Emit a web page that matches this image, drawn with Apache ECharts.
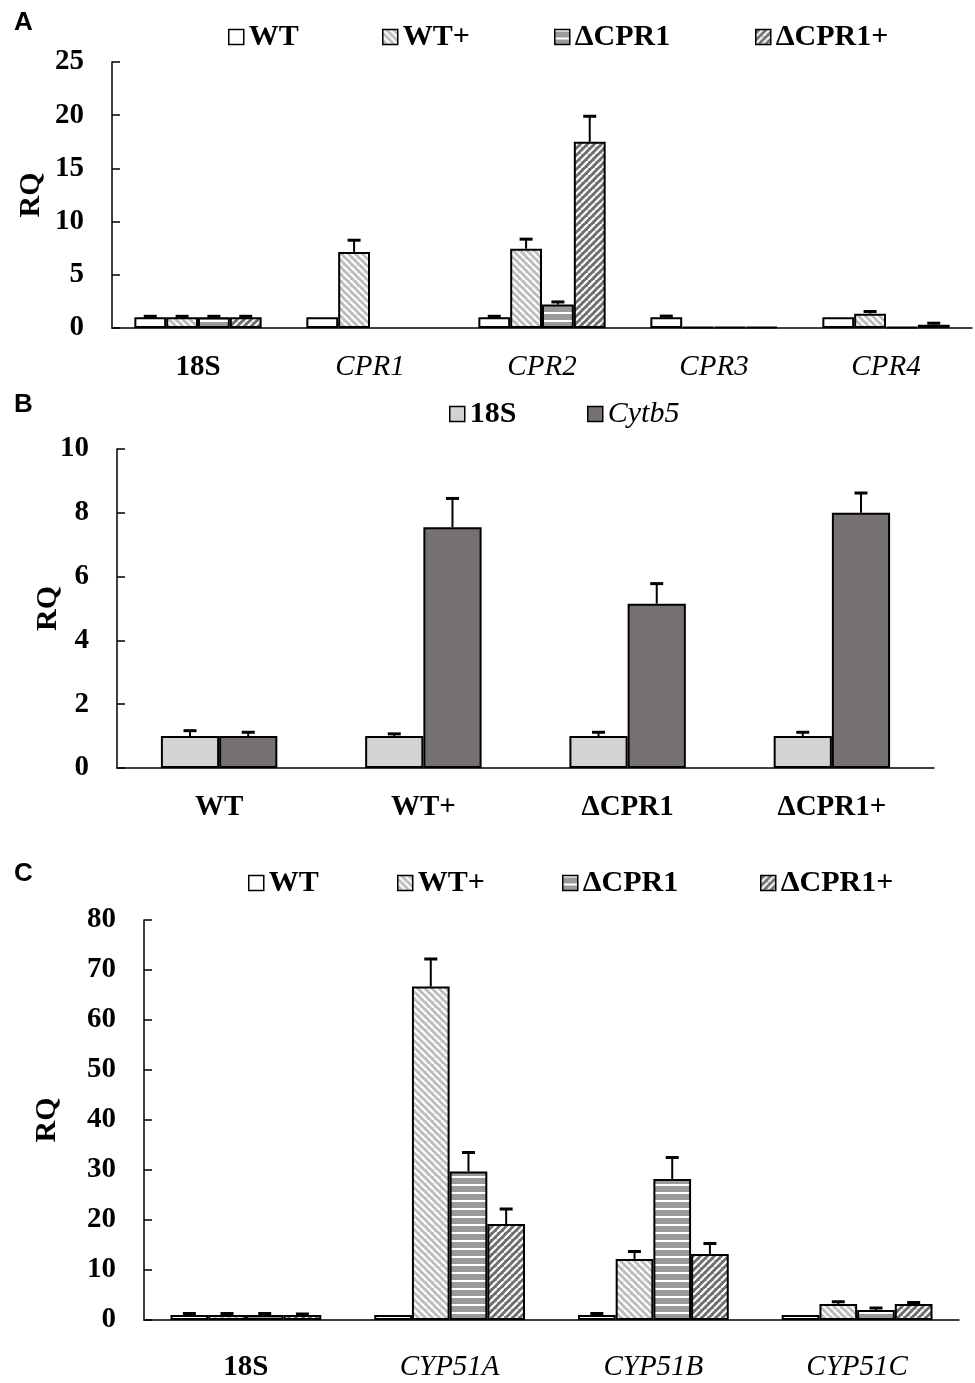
<!DOCTYPE html>
<html>
<head>
<meta charset="utf-8">
<script src="https://cdn.jsdelivr.net/npm/echarts@6/dist/echarts.min.js"></script>
<style>
  html, body { margin: 0; padding: 0; background: #fff; }
  #chart { width: 975px; height: 1383px; }
</style>
</head>
<body>
<div id="chart"></div>
<script>
// ---- data ----
const groups = ["WT", "WT+", "ΔCPR1", "ΔCPR1+"];

// panel A
const catsA = ["18S", "CPR1", "CPR2", "CPR3", "CPR4"];
const wtA = [1, 1, 1, 1, 1];
const wtpA = [1, 7.15, 7.45, 0.1, 1.35];
const dA = [1, null, 2.2, 0.1, 0.1];
const dpA = [1, null, 17.5, 0.1, 0.3];
const wtA_err = [0.1, 0, 0.1, 0.12, 0];
const wtpA_err = [0.1, 1.1, 0.9, 0, 0.2];
const dA_err = [0.1, 0, 0.25, 0, 0];
const dpA_err = [0.1, 0, 2.4, 0, 0.15];

// panel B
const catsB = ["WT", "WT+", "ΔCPR1", "ΔCPR1+"];
const genesB = ["18S", "Cytb5"];
const s18B = [1, 1, 1, 1];
const cytB = [1, 7.55, 5.15, 8.0];
const s18B_err = [0.17, 0.07, 0.12, 0.12];
const cytB_err = [0.12, 0.9, 0.63, 0.62];

// panel C
const catsC = ["18S", "CYP51A", "CYP51B", "CYP51C"];
const wtC = [1, 1, 1, 1];
const wtpC = [1, 66.7, 12.2, 3.2];
const dC = [1, 29.7, 28.2, 2.0];
const dpC = [1, 19.2, 13.2, 3.2];
const wtC_err = [0.3, 0, 0.3, 0];
const wtpC_err = [0.3, 5.5, 1.5, 0.45];
const dC_err = [0.3, 3.8, 4.3, 0.4];
const dpC_err = [0.2, 3.0, 2.1, 0.3];

const italicNames = ["CPR1", "CPR2", "CPR3", "CPR4", "CYP51A", "CYP51B", "CYP51C", "Cytb5"];

// ---- styles ----
const SERIF = "'Liberation Serif', 'Times New Roman', serif";

function hatch(bg, kind, size, lw) {
  const c = document.createElement("canvas");
  c.width = c.height = size;
  const g = c.getContext("2d");
  g.fillStyle = bg;
  g.fillRect(0, 0, size, size);
  g.strokeStyle = "#fff";
  g.fillStyle = "#fff";
  g.lineWidth = lw;
  if (kind === "h") {
    g.fillRect(0, 0, size, lw);
  } else {
    g.beginPath();
    for (const o of [-size, 0, size]) {
      if (kind === "\\") { g.moveTo(o, 0); g.lineTo(o + size, size); }
      else { g.moveTo(o, size); g.lineTo(o + size, 0); }
    }
    g.stroke();
  }
  return { image: c, repeat: "repeat" };
}

const fills = [
  "#ffffff",
  hatch("#bdbdbd", "\\", 7, 2.2),
  hatch("#9a9a9a", "h", 8, 2),
  hatch("#6e6e6e", "/", 7, 2.2)
];

const catLabel = {
  color: "#000",
  fontFamily: SERIF,
  fontSize: 29,
  formatter: v => italicNames.includes(v) ? "{i|" + v + "}" : "{b|" + v + "}",
  rich: {
    i: { fontFamily: SERIF, fontSize: 29, fontStyle: "italic", fontWeight: "normal", color: "#000" },
    b: { fontFamily: SERIF, fontSize: 29, fontWeight: "bold", color: "#000" }
  }
};

function xAxis(idx, cats, margin) {
  return {
    type: "category", gridIndex: idx, data: cats,
    axisLine: { lineStyle: { color: "#000", width: 1.5 } },
    axisTick: { inside: true, length: 10, lineStyle: { color: "#000", width: 1.5 } },
    axisLabel: Object.assign({ margin: margin }, catLabel)
  };
}

function yAxis(idx, max, interval, nameGap) {
  return {
    type: "value", gridIndex: idx, min: 0, max: max, interval: interval,
    name: "RQ", nameLocation: "middle", nameRotate: 90, nameGap: nameGap,
    nameMoveOverlap: false,
    nameTextStyle: { fontFamily: SERIF, fontSize: 30, fontWeight: "bold", color: "#000" },
    splitLine: { show: false },
    axisLine: { show: true, lineStyle: { color: "#000", width: 1.5 } },
    axisTick: { show: true, inside: true, length: 8, lineStyle: { color: "#000", width: 1.5 } },
    axisLabel: { margin: 28, fontFamily: SERIF, fontSize: 29, fontWeight: "bold", color: "#000" }
  };
}

// error bars drawn next to their bar using the axis band width
function errBars(idx, i, n, gap, vals, errs) {
  const data = [];
  vals.forEach((v, k) => { if (v != null && errs[k]) data.push([k, v, errs[k]]); });
  return {
    type: "custom", xAxisIndex: idx, yAxisIndex: idx, z: 5, silent: true,
    data: data,
    renderItem: (params, api) => {
      const x = api.value(0), v = api.value(1), e = api.value(2);
      const base = api.coord([x, v]);
      const top = api.coord([x, v + e]);
      const band = api.size([1, 0])[0];
      const bw = band * (1 - gap) / n;
      const cx = base[0] + (i - (n - 1) / 2) * bw;
      return {
        type: "group",
        children: [
          { type: "line", shape: { x1: cx, y1: base[1], x2: cx, y2: top[1] }, style: { stroke: "#000", lineWidth: 2 } },
          { type: "line", shape: { x1: cx - 6.5, y1: top[1], x2: cx + 6.5, y2: top[1] }, style: { stroke: "#000", lineWidth: 3 } }
        ]
      };
    }
  };
}

function bars(idx, name, vals, color, gap) {
  return {
    type: "bar", name: name, xAxisIndex: idx, yAxisIndex: idx, data: vals,
    barGap: "0%", barCategoryGap: (gap * 100) + "%",
    itemStyle: { color: color, borderColor: "#000", borderWidth: 2 },
    emphasis: { disabled: true }
  };
}

const gapA = 0.26, gapB = 0.43, gapC = 0.26;
const valsA = [wtA, wtpA, dA, dpA], errA = [wtA_err, wtpA_err, dA_err, dpA_err];
const valsB = [s18B, cytB], errB = [s18B_err, cytB_err];
const valsC = [wtC, wtpC, dC, dpC], errC = [wtC_err, wtpC_err, dC_err, dpC_err];
const colorsB = ["#d3d3d3", "#757171"];

const series = [];
groups.forEach((g, i) => series.push(bars(0, g, valsA[i], fills[i], gapA)));
genesB.forEach((g, i) => series.push(bars(1, g, valsB[i], colorsB[i], gapB)));
groups.forEach((g, i) => series.push(bars(2, g + " ", valsC[i], fills[i], gapC)));
groups.forEach((g, i) => series.push(errBars(0, i, 4, gapA, valsA[i], errA[i])));
genesB.forEach((g, i) => series.push(errBars(1, i, 2, gapB, valsB[i], errB[i])));
groups.forEach((g, i) => series.push(errBars(2, i, 4, gapC, valsC[i], errC[i])));

const legendText = {
  fontFamily: SERIF, fontSize: 30, fontWeight: "bold", color: "#000",
  rich: { i: { fontFamily: SERIF, fontSize: 30, fontStyle: "italic", fontWeight: "normal", color: "#000" } }
};
function legendItem(name, left, cy) {
  return {
    data: [name], left: left, top: cy - 16, orient: "horizontal",
    itemWidth: 15, itemHeight: 15, itemGap: 0, padding: 0,
    icon: "rect", selectedMode: false,
    itemStyle: { borderColor: "#000", borderWidth: 1.5 },
    formatter: n => italicNames.includes(n.trim()) ? "{i|" + n + "}" : n,
    textStyle: legendText
  };
}
const legendLeftA = [228, 382, 554, 755];
const legendLeftB = [449, 587];
const legendLeftC = [248, 397, 562, 760];
const legends = [];
groups.forEach((g, i) => legends.push(legendItem(g, legendLeftA[i], 38)));
genesB.forEach((g, i) => legends.push(legendItem(g, legendLeftB[i], 415)));
groups.forEach((g, i) => legends.push(legendItem(g + " ", legendLeftC[i], 884)));

const panelTitle = () => ({ fontFamily: "'Liberation Sans', Arial, sans-serif", fontSize: 26, fontWeight: "bold", color: "#000" });

const chart = echarts.init(document.getElementById("chart"));
chart.setOption({
  animation: false,
  backgroundColor: "#fff",
  title: [
    { text: "A", left: 9, top: 5, textStyle: panelTitle() },
    { text: "B", left: 9, top: 387, textStyle: panelTitle() },
    { text: "C", left: 9, top: 856, textStyle: panelTitle() }
  ],
  legend: legends,
  grid: [
    { left: 112, top: 62, width: 860, height: 266 },
    { left: 117, top: 449, width: 817, height: 319 },
    { left: 144, top: 920, width: 815, height: 400 }
  ],
  xAxis: [xAxis(0, catsA, 25), xAxis(1, catsB, 25), xAxis(2, catsC, 33)],
  yAxis: [yAxis(0, 25, 5, 66), yAxis(1, 10, 2, 54), yAxis(2, 80, 10, 82)],
  series: series
});
</script>
</body>
</html>
